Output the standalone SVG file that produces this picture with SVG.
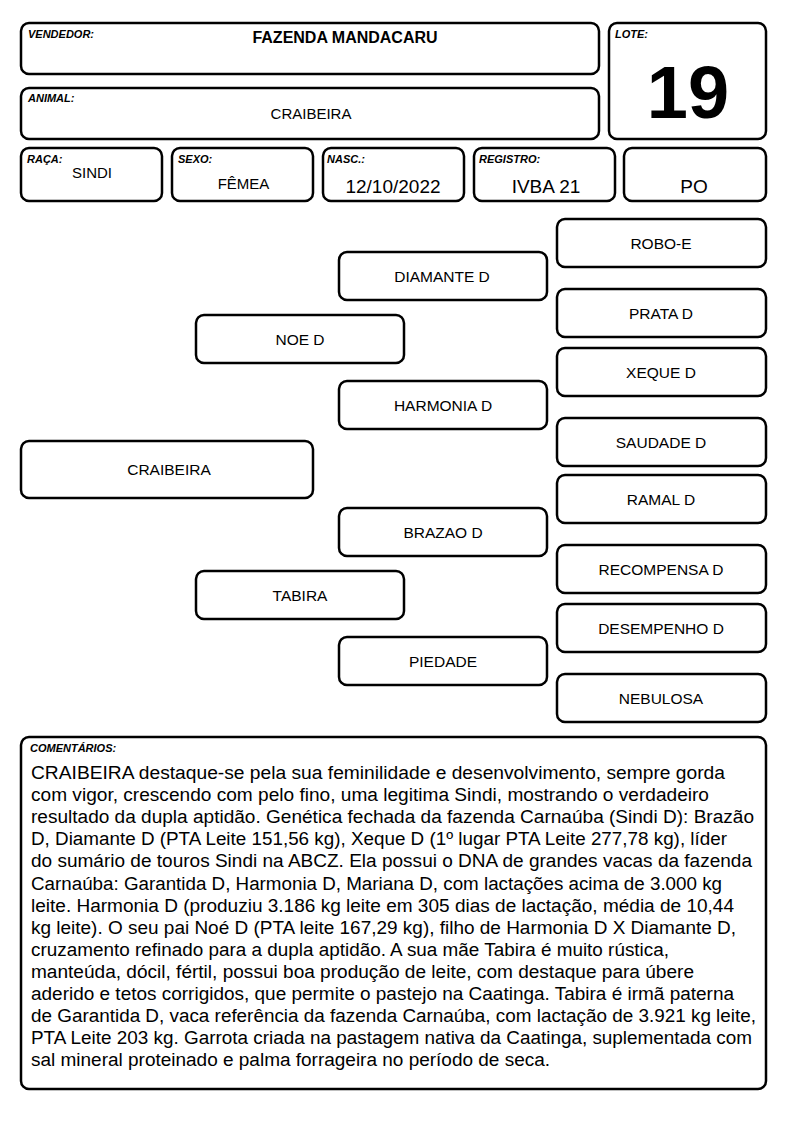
<svg xmlns="http://www.w3.org/2000/svg" width="794" height="1123" viewBox="0 0 794 1123">
<style>
  .box { fill: #fff; stroke: #000; stroke-width: 2.5; }
  .lbl { font-family: "Liberation Sans", Arial, sans-serif; font-size: 11px; font-weight: bold; font-style: italic; fill: #000; }
  .val { font-family: "Liberation Sans", Arial, sans-serif; font-size: 15px; fill: #000; text-anchor: middle; }
  .big { font-family: "Liberation Sans", Arial, sans-serif; font-size: 19px; fill: #000; text-anchor: middle; }
  .node { font-family: "Liberation Sans", Arial, sans-serif; font-size: 15.5px; fill: #000; text-anchor: middle; }
  .cm { font-family: "Liberation Sans", Arial, sans-serif; font-size: 18px; fill: #000; }
</style>
<rect width="794" height="1123" fill="#fff"/>

<g id="vendedor">
  <rect class="box" x="21" y="23" width="578" height="51" rx="8"/>
  <text class="lbl" x="28" y="38">VENDEDOR:</text>
  <text x="345" y="43" font-family="Liberation Sans, Arial, sans-serif" font-size="16" font-weight="bold" text-anchor="middle">FAZENDA MANDACARU</text>
</g>
<g id="lote">
  <rect class="box" x="609" y="23" width="157" height="116" rx="8"/>
  <text class="lbl" x="615" y="38">LOTE:</text>
  <text x="688" y="118" font-family="Liberation Sans, Arial, sans-serif" font-size="74" font-weight="bold" text-anchor="middle">19</text>
</g>
<g id="animal">
  <rect class="box" x="21" y="88" width="578" height="51" rx="8"/>
  <text class="lbl" x="28" y="102">ANIMAL:</text>
  <text class="val" x="311" y="119" font-size="15.5">CRAIBEIRA</text>
</g>
<g id="raca">
  <rect class="box" x="21" y="148" width="141" height="53" rx="8"/>
  <text class="lbl" x="27" y="163">RAÇA:</text>
  <text class="val" x="92" y="177.5">SINDI</text>
</g>
<g id="sexo">
  <rect class="box" x="172" y="148" width="141" height="53" rx="8"/>
  <text class="lbl" x="178" y="163">SEXO:</text>
  <text class="val" x="243.5" y="189">FÊMEA</text>
</g>
<g id="nasc">
  <rect class="box" x="323" y="148" width="141" height="53" rx="8"/>
  <text class="lbl" x="327" y="163">NASC.:</text>
  <text class="big" x="393" y="193">12/10/2022</text>
</g>
<g id="registro">
  <rect class="box" x="474" y="148" width="141" height="53" rx="8"/>
  <text class="lbl" x="479" y="163">REGISTRO:</text>
  <text class="big" x="546" y="193">IVBA 21</text>
</g>
<g id="categoria">
  <rect class="box" x="624" y="148" width="142" height="53" rx="8"/>
  <text class="big" x="694" y="193">PO</text>
</g>

<g id="connectors"></g>

<g id="n-robo-e"><rect class="box" x="557" y="219" width="209" height="48" rx="8"/><text class="node" x="661" y="248.5">ROBO-E</text></g>
<g id="n-diamante"><rect class="box" x="339" y="252" width="208" height="48" rx="8"/><text class="node" x="442" y="281.5">DIAMANTE D</text></g>
<g id="n-prata"><rect class="box" x="557" y="289" width="209" height="48" rx="8"/><text class="node" x="661" y="318.5">PRATA D</text></g>
<g id="n-noe"><rect class="box" x="196" y="315" width="208" height="48" rx="8"/><text class="node" x="300" y="344.5">NOE D</text></g>
<g id="n-xeque"><rect class="box" x="557" y="348" width="209" height="48" rx="8"/><text class="node" x="661" y="377.5">XEQUE D</text></g>
<g id="n-harmonia"><rect class="box" x="339" y="381" width="208" height="48" rx="8"/><text class="node" x="443" y="410.5">HARMONIA D</text></g>
<g id="n-saudade"><rect class="box" x="557" y="418" width="209" height="48" rx="8"/><text class="node" x="661" y="447.5">SAUDADE D</text></g>
<g id="n-craibeira"><rect class="box" x="21" y="441" width="292" height="57" rx="8"/><text class="node" x="169" y="475">CRAIBEIRA</text></g>
<g id="n-ramal"><rect class="box" x="557" y="475" width="209" height="48" rx="8"/><text class="node" x="661" y="504.5">RAMAL D</text></g>
<g id="n-brazao"><rect class="box" x="339" y="508" width="208" height="48" rx="8"/><text class="node" x="443" y="537.5">BRAZAO D</text></g>
<g id="n-recompensa"><rect class="box" x="557" y="545" width="209" height="48" rx="8"/><text class="node" x="661" y="574.5">RECOMPENSA D</text></g>
<g id="n-tabira"><rect class="box" x="196" y="571" width="208" height="48" rx="8"/><text class="node" x="300" y="600.5">TABIRA</text></g>
<g id="n-desempenho"><rect class="box" x="557" y="604" width="209" height="48" rx="8"/><text class="node" x="661" y="633.5">DESEMPENHO D</text></g>
<g id="n-piedade"><rect class="box" x="339" y="637" width="208" height="48" rx="8"/><text class="node" x="443" y="666.5">PIEDADE</text></g>
<g id="n-nebulosa"><rect class="box" x="557" y="674" width="209" height="48" rx="8"/><text class="node" x="661" y="703.5">NEBULOSA</text></g>

<g id="comentarios">
  <rect class="box" x="21" y="737" width="745" height="352" rx="8"/>
  <text class="lbl" x="30" y="752" font-size="10.5">COMENTÁRIOS:</text>
  <text class="cm" x="31" y="779" textLength="694" lengthAdjust="spacingAndGlyphs">CRAIBEIRA destaque-se pela sua feminilidade e desenvolvimento, sempre gorda</text>
  <text class="cm" x="31" y="801.1" textLength="678" lengthAdjust="spacingAndGlyphs">com vigor, crescendo com pelo fino, uma legitima Sindi, mostrando o verdadeiro</text>
  <text class="cm" x="31" y="823.2" textLength="723" lengthAdjust="spacingAndGlyphs">resultado da dupla aptidão. Genética fechada da fazenda Carnaúba (Sindi D): Brazão</text>
  <text class="cm" x="31" y="845.3" textLength="696" lengthAdjust="spacingAndGlyphs">D, Diamante D (PTA Leite 151,56 kg), Xeque D (1º lugar PTA Leite 277,78 kg), líder</text>
  <text class="cm" x="31" y="867.4" textLength="721" lengthAdjust="spacingAndGlyphs">do sumário de touros Sindi na ABCZ. Ela possui o DNA de grandes vacas da fazenda</text>
  <text class="cm" x="31" y="889.5" textLength="691" lengthAdjust="spacingAndGlyphs">Carnaúba: Garantida D, Harmonia D, Mariana D, com lactações acima de 3.000 kg</text>
  <text class="cm" x="31" y="911.6" textLength="703" lengthAdjust="spacingAndGlyphs">leite. Harmonia D (produziu 3.186 kg leite em 305 dias de lactação, média de 10,44</text>
  <text class="cm" x="31" y="933.7" textLength="705" lengthAdjust="spacingAndGlyphs">kg leite). O seu pai Noé D (PTA leite 167,29 kg), filho de Harmonia D X Diamante D,</text>
  <text class="cm" x="31" y="955.8" textLength="638" lengthAdjust="spacingAndGlyphs">cruzamento refinado para a dupla aptidão. A sua mãe Tabira é muito rústica,</text>
  <text class="cm" x="31" y="977.9" textLength="663" lengthAdjust="spacingAndGlyphs">manteúda, dócil, fértil, possui boa produção de leite, com destaque para úbere</text>
  <text class="cm" x="31" y="1000" textLength="703" lengthAdjust="spacingAndGlyphs">aderido e tetos corrigidos, que permite o pastejo na Caatinga. Tabira é irmã paterna</text>
  <text class="cm" x="31" y="1022.1" textLength="725" lengthAdjust="spacingAndGlyphs">de Garantida D, vaca referência da fazenda Carnaúba, com lactação de 3.921 kg leite,</text>
  <text class="cm" x="31" y="1044.2" textLength="721" lengthAdjust="spacingAndGlyphs">PTA Leite 203 kg. Garrota criada na pastagem nativa da Caatinga, suplementada com</text>
  <text class="cm" x="31" y="1066.3" textLength="519" lengthAdjust="spacingAndGlyphs">sal mineral proteinado e palma forrageira no período de seca.</text>
</g>
</svg>
